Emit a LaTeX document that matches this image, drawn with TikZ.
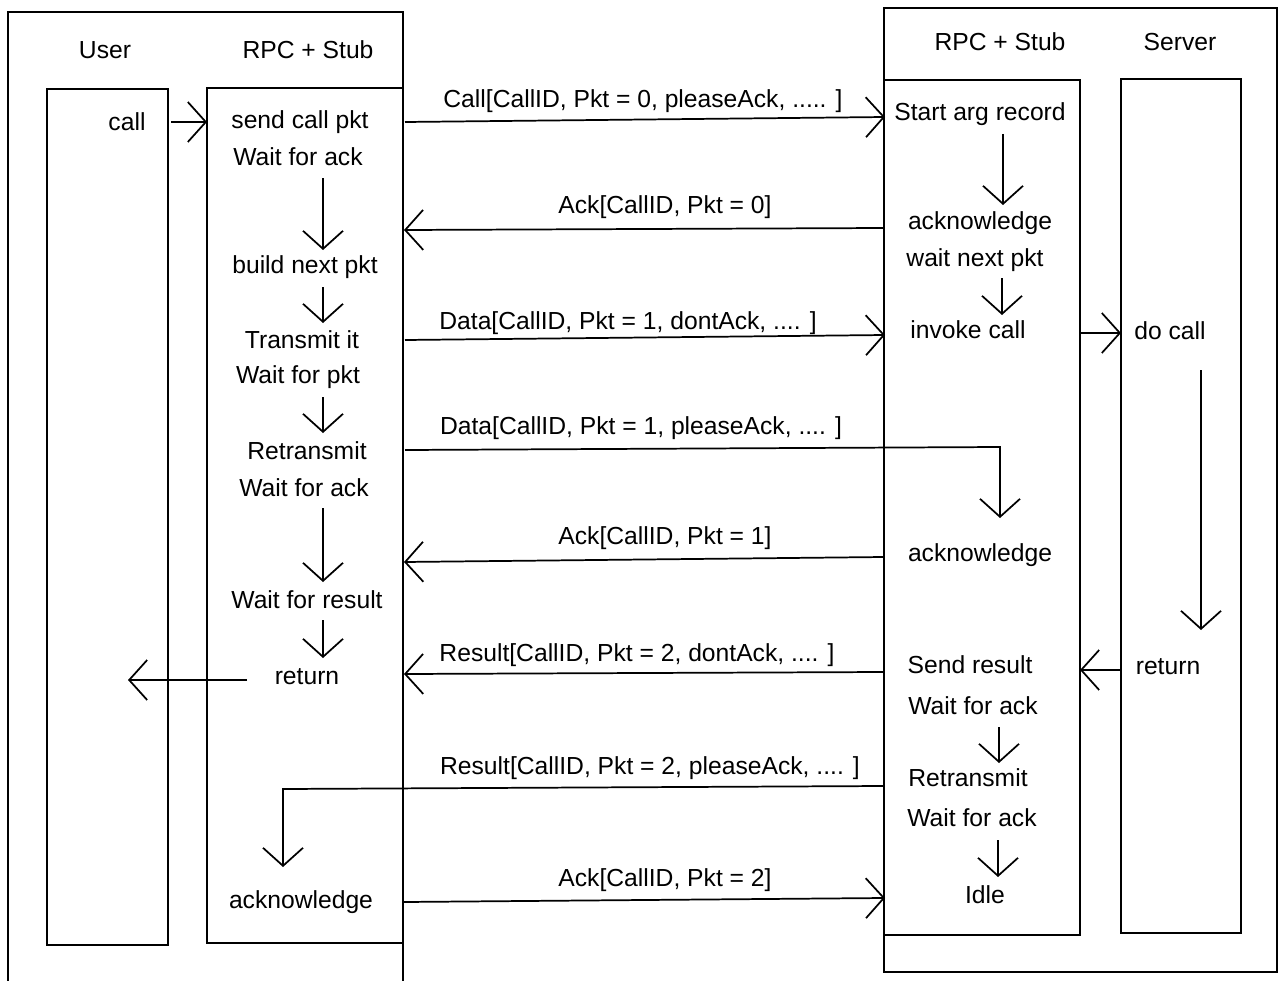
\documentclass[tikz,border=0pt]{standalone}
\usepackage{fontspec}
\setmainfont{Liberation Sans}
\usetikzlibrary{arrows.meta}
\begin{document}
\begin{tikzpicture}[x=0.75pt,y=-0.75pt,
  box/.style={draw,line width=1.8pt,line join=miter},
  lbl/.style={font=\fontsize{18.5}{22}\selectfont,inner sep=0pt},
  barb/.style={-{Straight Barb[length=13.5pt,width=30pt,line width=1.3pt]}},
  msg/.style={line width=1.3pt,barb},
  flow/.style={line width=1.5pt,barb},
]
\useasboundingbox[fill=white] (0,0) rectangle (1286,981);

% ---- boxes ----
\draw[box] (8,981) -- (8,12) -- (403,12) -- (403,981);
\draw[box] (403,88) -- (207,88) -- (207,943) -- (403,943);
\draw[box] (47,89) rectangle (168,945);
\draw[box] (884,8) rectangle (1277,972);
\draw[box] (884,80) -- (1080,80) -- (1080,935) -- (884,935);
\draw[box] (1121,79) rectangle (1241,933);

% ---- headers ----
\node[lbl] (huser) at (105,50) {User};
\node[lbl] (hlstub) at (308,50) {RPC + Stub};
\node[lbl] (hrstub) at (1000,42) {RPC + Stub};
\node[lbl] (hserver) at (1180,42) {Server};

% ---- user ----
\node[lbl] (call) at (127,122) {call};

% ---- left stub ----
\node[lbl] (sendcall) at (300,122) {send call pkt};
\node[lbl] (waitack1) at (298,157) {Wait for ack};
\node[lbl] (buildnext) at (305,267) {build next pkt};
\node[lbl] (transmit) at (302,340) {Transmit it};
\node[lbl] (waitpkt) at (298,377) {Wait for pkt};
\node[lbl] (retrans1) at (307,451) {Retransmit};
\node[lbl] (waitack2) at (304,488) {Wait for ack};
\node[lbl] (waitres) at (307,600) {Wait for result};
\node[lbl] (lreturn) at (307,677) {return};
\node[lbl] (lack) at (301,902) {acknowledge};

% ---- right stub ----
\node[lbl] (startarg) at (980,114) {Start arg record};
\node[lbl] (rack1) at (980,223) {acknowledge};
\node[lbl] (waitnext) at (975,260) {wait next pkt};
\node[lbl] (invoke) at (968,330) {invoke call};
\node[lbl] (rack2) at (980,555) {acknowledge};
\node[lbl] (sendres) at (970,665) {Send result};
\node[lbl] (waitack3) at (973,706) {Wait for ack};
\node[lbl] (retrans2) at (968,778) {Retransmit};
\node[lbl] (waitack4) at (972,818) {Wait for ack};
\node[lbl] (idle) at (985,895) {Idle};

% ---- server ----
\node[lbl] (docall) at (1170,331) {do call};
\node[lbl] (sreturn) at (1168,667) {return};

% ---- message labels ----
\node[lbl] (m1) at (643,101) {Call[CallID, Pkt = 0, pleaseAck, ..... ]};
\node[lbl] (m2) at (665,207) {Ack[CallID, Pkt = 0]};
\node[lbl] (m3) at (628,323) {Data[CallID, Pkt = 1, dontAck, .... ]};
\node[lbl] (m4) at (641,428) {Data[CallID, Pkt = 1, pleaseAck, .... ]};
\node[lbl] (m5) at (665,538) {Ack[CallID, Pkt = 1]};
\node[lbl] (m6) at (637,655) {Result[CallID, Pkt = 2, dontAck, .... ]};
\node[lbl] (m7) at (650,768) {Result[CallID, Pkt = 2, pleaseAck, .... ]};
\node[lbl] (m8) at (665,880) {Ack[CallID, Pkt = 2]};

% ---- coordinates for connector ends ----
\coordinate (ca) at (171,122);  \coordinate (cb) at (207,122);
\coordinate (ra) at (247,680);  \coordinate (rb) at (128,680);
\coordinate (m1a) at (405,122); \coordinate (m1b) at (885,117);
\coordinate (m2a) at (884,228); \coordinate (m2b) at (404,230);
\coordinate (m3a) at (405,340); \coordinate (m3b) at (885,335);
\coordinate (m4a) at (405,450); \coordinate (m4k) at (1000,447); \coordinate (m4b) at (1000,518);
\coordinate (m5a) at (884,557); \coordinate (m5b) at (404,562);
\coordinate (m6a) at (884,672); \coordinate (m6b) at (404,674);
\coordinate (m7a) at (884,786); \coordinate (m7k) at (283,789); \coordinate (m7b) at (283,867);
\coordinate (m8a) at (404,902); \coordinate (m8b) at (885,898);
\coordinate (dca) at (1080,333); \coordinate (dcb) at (1121,333);
\coordinate (sra) at (1121,670); \coordinate (srb) at (1080,670);
\coordinate (sva) at (1201,370); \coordinate (svb) at (1201,630);

% ---- connectors ----
\draw[msg] (ca) -- (cb);
\draw[msg] (ra) -- (rb);
\draw[msg] (m1a) -- (m1b);
\draw[msg] (m2a) -- (m2b);
\draw[msg] (m3a) -- (m3b);
\draw[msg] (m4a) -- (m4k) -- (m4b);
\draw[msg] (m5a) -- (m5b);
\draw[msg] (m6a) -- (m6b);
\draw[msg] (m7a) -- (m7k) -- (m7b);
\draw[msg] (m8a) -- (m8b);
\draw[msg] (dca) -- (dcb);
\draw[msg] (sra) -- (srb);
\draw[flow] (sva) -- (svb);

% left stub flow
\coordinate (f1a) at (323,178); \coordinate (f1b) at (323,250);
\coordinate (f2a) at (323,287); \coordinate (f2b) at (323,323);
\coordinate (f3a) at (323,397); \coordinate (f3b) at (323,433);
\coordinate (f4a) at (323,508); \coordinate (f4b) at (323,582);
\coordinate (f5a) at (323,620); \coordinate (f5b) at (323,658);
\draw[flow] (f1a) -- (f1b);
\draw[flow] (f2a) -- (f2b);
\draw[flow] (f3a) -- (f3b);
\draw[flow] (f4a) -- (f4b);
\draw[flow] (f5a) -- (f5b);

% right stub flow
\coordinate (g1a) at (1003,134); \coordinate (g1b) at (1003,205);
\coordinate (g2a) at (1002,278); \coordinate (g2b) at (1002,315);
\coordinate (g3a) at (999,727);  \coordinate (g3b) at (999,763);
\coordinate (g4a) at (998,840);  \coordinate (g4b) at (998,877);
\draw[flow] (g1a) -- (g1b);
\draw[flow] (g2a) -- (g2b);
\draw[flow] (g3a) -- (g3b);
\draw[flow] (g4a) -- (g4b);
\end{tikzpicture}
\end{document}
